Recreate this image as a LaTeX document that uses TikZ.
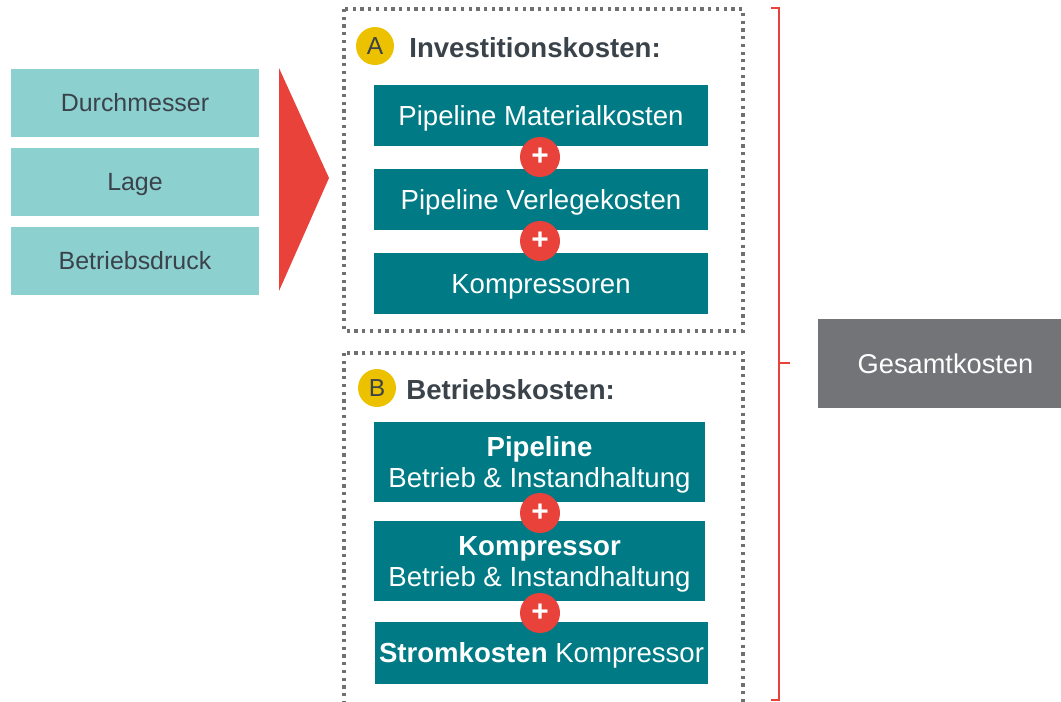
\documentclass[tikz,border=0pt]{standalone}
\usepackage{fontspec}
\setmainfont{Liberation Sans}
\usepackage{tikz}
\definecolor{lightteal}{HTML}{8DD0D0}
\definecolor{darkteal}{HTML}{007A85}
\definecolor{darktext}{HTML}{3A424A}
\definecolor{plusred}{HTML}{E8423A}
\definecolor{badgeyellow}{HTML}{ECC100}
\definecolor{dotgray}{HTML}{707072}
\definecolor{totalgray}{HTML}{737477}
\tikzstyle{param}=[fill=lightteal, text=darktext, minimum width=4.96cm, minimum height=1.38cm, inner sep=0pt, text height=10.2pt, text depth=0pt, font=\fontsize{14.2}{17}\selectfont]
\tikzstyle{cost}=[fill=darkteal, text=white, minimum width=6.68cm, minimum height=1.22cm, inner sep=0pt, align=center, text height=11.2pt, text depth=0pt, font=\fontsize{15.7}{17.6}\selectfont]
\tikzstyle{twoline}=[text height=28.8pt, text depth=0pt]
\tikzstyle{plus}=[circle, fill=plusred, text=white, minimum size=0.8cm, inner sep=0pt, font=\bfseries\fontsize{17}{17}\selectfont]
\tikzstyle{badge}=[circle, fill=badgeyellow, text=darktext, minimum size=0.76cm, inner sep=0pt, font=\fontsize{14}{14}\selectfont]
\tikzstyle{heading}=[anchor=west, text=darktext, inner sep=0pt, font=\bfseries\fontsize{15.7}{18}\selectfont]
\tikzstyle{group}=[draw=dotgray, line width=1.85pt, dash pattern=on 1.85pt off 2.55pt]
\tikzstyle{brace}=[draw=plusred, line width=1.1pt]

\begin{document}
\begin{tikzpicture}[x=0.02cm, y=-0.02cm]
\useasboundingbox (0,0) rectangle (1061,702);

% input parameters
\foreach \name/\txt/\y in {dm/Durchmesser/103, lage/Lage/182, druck/Betriebsdruck/261}
\node[param] (\name) at (135,\y) {\txt};
\fill[plusred] (279,68) -- (329,178) -- (279,291) -- cycle;

% A: investment
\draw[group] (344,9) rectangle (743,331);
\node[badge] (a) at (375,46) {A};
\node[heading] (ahead) at (409,48) {Investitionskosten:};
\node[cost] (mat) at (541,115.5) {Pipeline Materialkosten};
\node[cost] (verl) at (541,199.5) {Pipeline Verlegekosten};
\node[cost] (komp) at (541,283.5) {Kompressoren};
\node[plus] (p1) at (540,157) {+};
\node[plus] (p2) at (540,241) {+};

% B: operation
\draw[group] (344,353) rectangle (743,730);
\node[badge] (b) at (377,388) {B};
\node[heading] (bhead) at (406,390) {Betriebskosten:};
\node[cost, twoline, minimum width=6.62cm, minimum height=1.6cm] (pipe) at (539.5,462) {\textbf{Pipeline}\\Betrieb \& Instandhaltung};
\node[cost, twoline, minimum width=6.62cm, minimum height=1.6cm] (kbetr) at (539.5,561) {\textbf{Kompressor}\\Betrieb \& Instandhaltung};
\node[cost, minimum width=6.66cm, minimum height=1.24cm] (strom) at (541.5,653) {\textbf{Stromkosten} Kompressor};
\node[plus] (p3) at (540,513) {+};
\node[plus] (p4) at (540,613) {+};

% total
\coordinate (top) at (771,8);
\coordinate (bot) at (771,700);
\coordinate (tip) at (790,363);
\draw[brace] (top) -- (779,8) -- (779,700) -- (bot);
\draw[brace] (779,363) -- (tip);
\node[fill=totalgray, text=white, minimum width=5.1cm, minimum height=1.78cm, inner sep=0pt, font=\fontsize{15.5}{18}\selectfont] (total) at (945.5,363.5) {Gesamtkosten};
\end{tikzpicture}
\end{document}
